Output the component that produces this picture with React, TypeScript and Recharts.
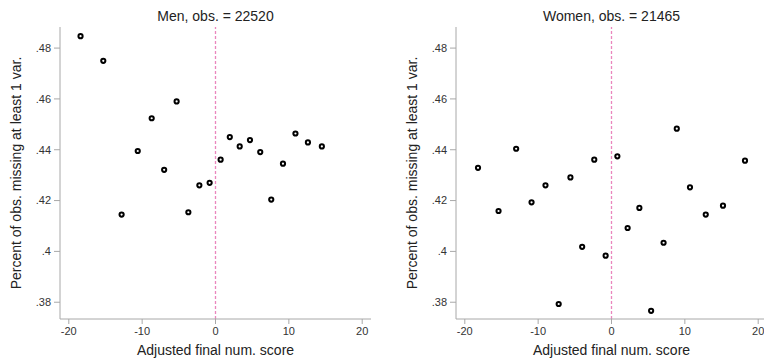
import React from 'react';
import { ScatterChart, Scatter, XAxis, YAxis, ReferenceLine } from 'recharts';

// Men: adjusted final num. score vs share missing
const menX = [-18.4, -15.3, -12.8, -10.6, -8.7, -7.0, -5.3, -3.7, -2.2, -0.8, 0.7, 1.95, 3.3, 4.7, 6.1, 7.6, 9.2, 10.9, 12.6, 14.5];
const menY = [0.4847, 0.475, 0.4145, 0.4395, 0.4524, 0.4321, 0.459, 0.4154, 0.426, 0.427, 0.4361, 0.445, 0.4413, 0.4438, 0.4391, 0.4204, 0.4345, 0.4464, 0.4429, 0.4413];

// Women
const womenX = [-18.2, -15.4, -13.0, -10.9, -9.0, -7.2, -5.6, -4.0, -2.35, -0.8, 0.8, 2.2, 3.8, 5.4, 7.1, 8.9, 10.7, 12.85, 15.2, 18.2];
const womenY = [0.4329, 0.4159, 0.4404, 0.4193, 0.426, 0.3793, 0.4291, 0.4018, 0.4361, 0.3983, 0.4374, 0.4092, 0.4171, 0.3766, 0.4034, 0.4483, 0.4252, 0.4145, 0.418, 0.4357];

const xTicks = [-20, -10, 0, 10, 20];
const yTicks = [0.38, 0.4, 0.42, 0.44, 0.46, 0.48];

const FONT = '"Liberation Sans", Arial, sans-serif';
const AXIS = '#a8a8a8';
const PINK = '#ea86bd';

const fmtY = (v: number) => String(+v.toFixed(2)).replace(/^0/, '');

const Ring = (props: any) => {
  const { cx, cy } = props;
  if (cx == null || cy == null) return null;
  return <circle cx={cx} cy={cy} r={2.1} fill="#fff" stroke="#000" strokeWidth={2} />;
};

function Panel({ title, xs, ys, left }: { title: string; xs: number[]; ys: number[]; left: number }) {
  const data = xs.map((x, i) => ({ x, y: ys[i] }));
  return (
    <div style={{ position: 'absolute', left, top: 0, width: 396, height: 362 }}>
      <div
        style={{
          position: 'absolute',
          left: 60,
          width: 311,
          top: 8,
          textAlign: 'center',
          fontSize: 14,
          lineHeight: '16px',
          color: '#222',
        }}
      >
        {title}
      </div>
      <ScatterChart width={396} height={362} margin={{ top: 27, right: 25, bottom: 0, left: 0 }}>
        <XAxis
          type="number"
          dataKey="x"
          domain={[-21.2, 21.2]}
          ticks={xTicks}
          allowDataOverflow
          height={43}
          stroke={AXIS}
          tickSize={5}
          tickMargin={3}
          tick={{ fill: '#333', fontSize: 11 }}
          label={{ value: 'Adjusted final num. score', position: 'center', dy: 10, fill: '#222', fontSize: 14 }}
        />
        <YAxis
          type="number"
          dataKey="y"
          domain={[0.3734, 0.4883]}
          ticks={yTicks}
          allowDataOverflow
          width={60}
          stroke={AXIS}
          tickSize={6}
          tickMargin={3}
          tickFormatter={fmtY}
          tick={{ fill: '#333', fontSize: 11 }}
          label={{
            value: 'Percent of obs. missing at least 1 var.',
            angle: -90,
            position: 'center',
            dx: -14,
            fill: '#222',
            fontSize: 14,
          }}
        />
        <ReferenceLine
          x={0}
          stroke={PINK}
          strokeWidth={1.3}
          strokeDasharray="3 2"
          style={{ stroke: PINK }}
        />
        <Scatter data={data} shape={Ring} isAnimationActive={false} />
      </ScatterChart>
    </div>
  );
}

export default function App() {
  return (
    <div
      style={{
        position: 'fixed',
        left: 0,
        top: 0,
        width: 764,
        height: 362,
        overflow: 'hidden',
        background: '#fff',
        fontFamily: FONT,
      }}
    >
      <Panel title="Men, obs. = 22520" xs={menX} ys={menY} left={0} />
      <Panel title="Women, obs. = 21465" xs={womenX} ys={womenY} left={396} />
    </div>
  );
}
